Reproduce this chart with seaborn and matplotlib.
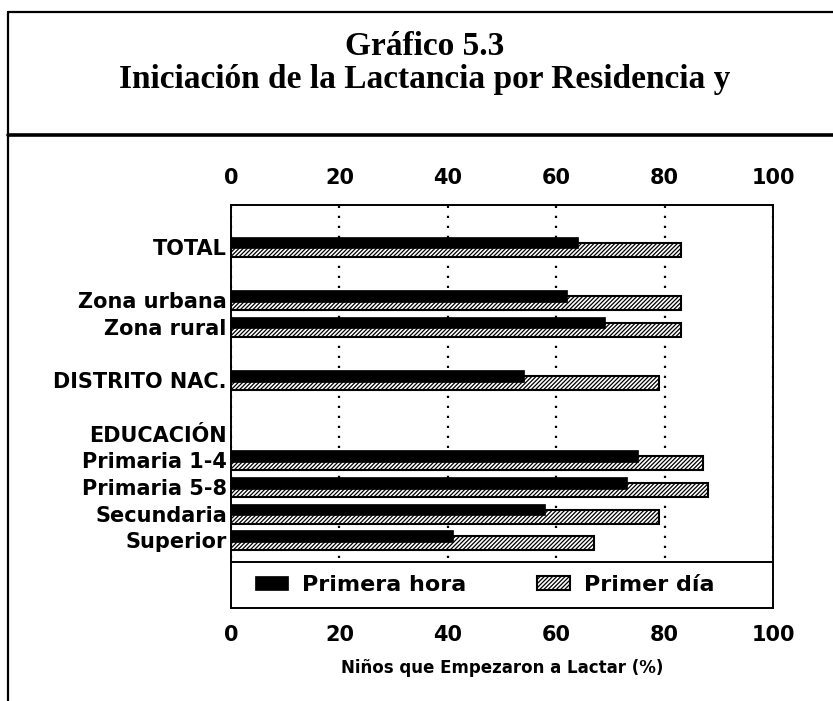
import numpy as np
import matplotlib
matplotlib.use("Agg")
import matplotlib.pyplot as plt
import seaborn as sns
from matplotlib.lines import Line2D

# ---------------- data ----------------
categories = ["TOTAL", "Zona urbana", "Zona rural", "DISTRITO NAC.",
              "Primaria 1-4", "Primaria 5-8", "Secundaria", "Superior"]
primera_hora = [64, 62, 69, 54, 75, 73, 58, 41]
primer_dia = [83, 83, 83, 79, 87, 88, 79, 67]
group_header = "EDUCACIÓN"
series_names = ["Primera hora", "Primer día"]
x_ticks = [0, 20, 40, 60, 80, 100]
title_lines = ["Gráfico 5.3", "Iniciación de la Lactancia por Residencia y"]
x_label = "Niños que Empezaron a Lactar (%)"

# ---------------- layout ----------------
row_slots = np.array([0, 2, 3, 5, 8, 9, 10, 11], dtype=float)
header_slot = 7
y_top, y_bottom = -1.56, 13.53
legend_boundary = 11.81

sns.set_style("white")
plt.rcParams["font.family"] = ["DejaVu Sans"]
plt.rcParams["hatch.linewidth"] = 0.9
plt.rcParams["text.color"] = "black"
plt.rcParams["axes.labelcolor"] = "black"
plt.rcParams["xtick.color"] = "black"
plt.rcParams["ytick.color"] = "black"

fig = plt.figure(figsize=(8.33, 7.01), dpi=100)
ax = fig.add_axes([231 / 833, 1 - 608 / 701, 542 / 833, 403 / 701])

# hatched bars (behind)
sns.barplot(x=primer_dia, y=row_slots + 0.11, orient="h", native_scale=True,
            width=0.52, color="white", edgecolor="black", linewidth=1.5,
            hatch="////////", saturation=1, errorbar=None,
            label=series_names[1], ax=ax, zorder=2)
# solid bars (front)
sns.barplot(x=primera_hora, y=row_slots - 0.16, orient="h", native_scale=True,
            width=0.435, color="black", edgecolor="black", linewidth=0.5,
            saturation=1, errorbar=None,
            label=series_names[0], ax=ax, zorder=3)

ax.set_xlim(0, 100)
ax.set_ylim(y_bottom, y_top)

# y labels
ytick_pos = list(row_slots) + [header_slot]
ytick_lab = list(categories) + [group_header]
order = np.argsort(ytick_pos)
ax.set_yticks([ytick_pos[i] for i in order])
ax.set_yticklabels([ytick_lab[i] for i in order], fontsize=15, fontweight="bold",
                   color="black")
ax.tick_params(axis="y", length=0, pad=3)

# x ticks top and bottom
ax.set_xticks(x_ticks)
ax.set_xticklabels([str(t) for t in x_ticks], fontsize=15, fontweight="bold",
                   color="black")
ax.tick_params(axis="x", length=0, labeltop=True, labelbottom=True, pad=12)

# dotted grid
ax.set_axisbelow(True)
ax.grid(axis="x", color="black", linestyle=(0, (1, 3.5)), linewidth=1.6)
ax.grid(axis="y", visible=False)

# legend strip
ax.axhspan(legend_boundary, y_bottom, facecolor="white", edgecolor="none", zorder=1)
ax.axhline(legend_boundary, color="black", linewidth=1.4, zorder=4)

for s in ax.spines.values():
    s.set_visible(True)
    s.set_color("black")
    s.set_linewidth(1.4)

ax.set_ylabel("")
ax.set_xlabel(x_label, fontsize=12, fontweight="bold", labelpad=10, color="black")

handles, labels = ax.get_legend_handles_labels()
hmap = dict(zip(labels, handles))
leg = ax.legend([hmap[n] for n in series_names], series_names,
                loc="center left", bbox_to_anchor=(24 / 542, 0.057), ncol=2,
                frameon=False, borderpad=0, borderaxespad=0,
                handlelength=1.5, handleheight=0.6, handletextpad=0.6,
                columnspacing=3.2,
                prop={"size": 16, "weight": "bold"})
for t in leg.get_texts():
    t.set_color("black")

# title
fig.text(425 / 833, 1 - 55 / 701, title_lines[0], ha="center", va="baseline",
         family="Liberation Serif", fontweight="bold", fontsize=24, color="black")
fig.text(425 / 833, 1 - 88 / 701, title_lines[1], ha="center", va="baseline",
         family="Liberation Serif", fontweight="bold", fontsize=24, color="black")

# frame lines
fig.add_artist(Line2D([8 / 833, 8 / 833], [0, 1 - 12 / 701], color="black", lw=1.6))
fig.add_artist(Line2D([8 / 833, 1], [1 - 12 / 701, 1 - 12 / 701], color="black", lw=1.6))
fig.add_artist(Line2D([8 / 833, 1], [1 - 135 / 701, 1 - 135 / 701], color="black", lw=2.6))

fig.savefig("out.png", dpi=100)
